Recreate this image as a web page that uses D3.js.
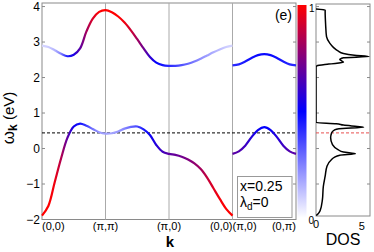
<!DOCTYPE html>
<html>
<head>
<meta charset="utf-8">
<script src="https://cdn.jsdelivr.net/npm/d3@7"></script>
<style>
  body { margin: 0; background: #fff; }
  svg { display: block; font-family: "Liberation Sans", Arial, sans-serif; }
</style>
</head>
<body>
<svg id="chart" width="374" height="252"></svg>
<script>
// k path, first panel: (0,0) -> (pi,pi) -> (pi,0) -> (0,0)
const kA = [0, 0.1, 0.2, 0.3, 0.4, 0.5, 0.6, 0.7, 0.8, 0.9, 1.0, 1.1, 1.2, 1.3, 1.4, 1.5,
  1.6, 1.7, 1.8, 1.9, 2.0, 2.1, 2.2, 2.3, 2.4, 2.5, 2.6, 2.7, 2.8, 2.9, 3.0];
const lowerA = [-1.89, -1.62, -0.95, -0.28, 0.30, 0.62, 0.70, 0.64, 0.55, 0.46, 0.42, 0.43, 0.48, 0.56, 0.61, 0.62,
  0.54, 0.38, 0.10, -0.09, -0.15, -0.18, -0.23, -0.31, -0.42, -0.58, -0.82, -1.12, -1.42, -1.70, -1.89];
const lowerWA = [1.0, 1.0, 0.97, 0.85, 0.68, 0.53, 0.47, 0.38, 0.27, 0.2, 0.18, 0.18, 0.2, 0.24, 0.3, 0.36,
  0.45, 0.52, 0.57, 0.63, 0.68, 0.7, 0.72, 0.75, 0.78, 0.82, 0.88, 0.94, 0.98, 1.0, 1.0];
const upperA = [2.90, 2.86, 2.77, 2.67, 2.60, 2.64, 2.82, 3.30, 3.66, 3.85, 3.90, 3.84, 3.72, 3.55, 3.33, 3.08,
  2.82, 2.58, 2.42, 2.35, 2.33, 2.33, 2.35, 2.39, 2.45, 2.53, 2.62, 2.71, 2.79, 2.86, 2.90];
const upperWA = [0.08, 0.1, 0.15, 0.25, 0.45, 0.55, 0.68, 0.82, 0.93, 1.0, 1.0, 1.0, 1.0, 0.97, 0.9, 0.82,
  0.72, 0.6, 0.5, 0.46, 0.42, 0.38, 0.34, 0.3, 0.26, 0.22, 0.19, 0.16, 0.13, 0.1, 0.08];

// k path, second panel: (pi,0) -> (0,pi)
const kB = [3.0, 3.1, 3.2, 3.3, 3.4, 3.5, 3.6, 3.7, 3.8, 3.9, 4.0];
const lowerB = [-0.15, -0.08, 0.08, 0.32, 0.52, 0.60, 0.52, 0.32, 0.08, -0.08, -0.15];
const lowerWB = [0.68, 0.66, 0.62, 0.57, 0.52, 0.5, 0.52, 0.57, 0.62, 0.66, 0.68];
const upperB = [2.34, 2.37, 2.45, 2.55, 2.63, 2.66, 2.63, 2.55, 2.45, 2.37, 2.34];
const upperWB = [0.42, 0.43, 0.45, 0.47, 0.48, 0.48, 0.48, 0.47, 0.45, 0.43, 0.42];

const kTickPos = [0, 1, 2, 3, 3, 4];
const kTickLabels = ['(0,0)', '(π,π)', '(π,0)', '(0,0)', '(π,0)', '(0,π)'];
const kTickAnchor = ['start', 'middle', 'middle', 'end', 'start', 'end'];
const yTicks = [-2, -1, 0, 1, 2, 3, 4];
const fermi = 0.44;

// density of states, energy from top to bottom
const dosE = [3.93, 3.90, 3.85, 3.50, 3.15, 2.97, 2.85, 2.75, 2.68, 2.63, 2.59, 2.56, 2.51, 2.47, 2.43, 2.38, 2.33, 2.30,
  0.73, 0.70, 0.66, 0.62, 0.60, 0.56, 0.52, 0.44, 0.30, 0.11, -0.03, -0.10, -0.15, -0.19, -0.25, -0.31,
  -0.50, -0.78, -1.07, -1.44, -1.75, -1.86, -1.88];
const dosVal = [0, 1.0, 1.0, 1.05, 1.15, 1.5, 1.9, 2.4, 3.0, 4.2, 5.8, 3.0, 2.6, 2.8, 3.0, 1.4, 0.1, 0,
  0, 2.2, 3.0, 4.5, 5.2, 2.5, 2.0, 1.7, 1.6, 1.8, 2.4, 3.0, 4.3, 2.6, 2.0, 1.7,
  1.2, 1.0, 0.8, 0.7, 0.45, 0.15, 0];
const dosTicks = [0, 5];

const svg = d3.select('#chart');
const defs = svg.append('defs');

const x = d3.scaleLinear().domain([0, 4]).range([42, 296]);
const y = d3.scaleLinear().domain([-2, 4.1]).range([219.5, 3]);
const xd = d3.scaleLinear().domain([0, 5.9]).range([316, 370]);
const cmap = d3.scaleLinear().domain([0, 0.5, 1]).range(['#ffffff', '#0000ff', '#ff0000']);

const frameColor = '#8a8a8a';

// main panel frame and separators
svg.append('rect')
  .attr('x', x(0)).attr('y', y(4.1))
  .attr('width', x(4) - x(0)).attr('height', y(-2) - y(4.1))
  .attr('fill', 'none').attr('stroke', frameColor);

svg.append('g').selectAll('line')
  .data([1, 2, 3])
  .enter().append('line')
  .attr('x1', d => x(d)).attr('x2', d => x(d))
  .attr('y1', y(4.1)).attr('y2', y(-2))
  .attr('stroke', '#aaa');

// y ticks on both sides
const tk = svg.append('g').attr('stroke', frameColor);
yTicks.forEach(v => {
  tk.append('line').attr('x1', x(0)).attr('x2', x(0) + 3).attr('y1', y(v)).attr('y2', y(v));
  tk.append('line').attr('x1', x(4)).attr('x2', x(4) - 3).attr('y1', y(v)).attr('y2', y(v));
});

svg.append('g').selectAll('text')
  .data(yTicks)
  .enter().append('text')
  .attr('x', 40).attr('y', d => y(d))
  .attr('dy', '0.36em')
  .attr('text-anchor', 'end')
  .attr('font-size', 12)
  .text(d => d < 0 ? '\u2212' + Math.abs(d) : d);

svg.append('g').selectAll('text')
  .data(kTickLabels)
  .enter().append('text')
  .attr('x', (d, i) => x(kTickPos[i]))
  .attr('y', 230)
  .attr('text-anchor', (d, i) => kTickAnchor[i])
  .attr('font-size', 11)
  .text(d => d);

// fermi level
svg.append('line')
  .attr('x1', x(0)).attr('x2', x(4))
  .attr('y1', y(fermi)).attr('y2', y(fermi))
  .attr('stroke', '#000').attr('stroke-dasharray', '3,2');

// bands, coloured along k with a horizontal gradient
let gradId = 0;
function drawBand(ks, es, ws) {
  const id = 'band' + (gradId++);
  const x1 = x(ks[0]), x2 = x(ks[ks.length - 1]);
  const grad = defs.append('linearGradient')
    .attr('id', id)
    .attr('gradientUnits', 'userSpaceOnUse')
    .attr('x1', x1).attr('x2', x2).attr('y1', 0).attr('y2', 0);
  ks.forEach((k, i) => {
    grad.append('stop')
      .attr('offset', (x(k) - x1) / (x2 - x1))
      .attr('stop-color', cmap(ws[i]));
  });
  const line = d3.line()
    .x(d => x(d[0]))
    .y(d => y(d[1]))
    .curve(d3.curveCatmullRom);
  svg.append('path')
    .attr('d', line(ks.map((k, i) => [k, es[i]])))
    .attr('fill', 'none')
    .attr('stroke', `url(#${id})`)
    .attr('stroke-width', 2.2);
}
drawBand(kA, upperA, upperWA);
drawBand(kA, lowerA, lowerWA);
drawBand(kB, upperB, upperWB);
drawBand(kB, lowerB, lowerWB);

// labels
svg.append('text')
  .attr('x', 292).attr('y', 20)
  .attr('text-anchor', 'end')
  .attr('font-size', 14)
  .text('(e)');

const leg = svg.append('g');
leg.append('rect')
  .attr('x', 237.5).attr('y', 176.5).attr('width', 54.5).attr('height', 41)
  .attr('fill', '#fff').attr('stroke', '#999');
leg.append('text')
  .attr('x', 240).attr('y', 191)
  .attr('font-size', 14)
  .text('x=0.25');
const lam = leg.append('text')
  .attr('x', 240).attr('y', 207)
  .attr('font-size', 14);
lam.append('tspan').text('λ');
lam.append('tspan').attr('font-size', 10).attr('dy', 3).text('d');
lam.append('tspan').attr('dy', -3).text('=0');

svg.append('text')
  .attr('x', 170).attr('y', 247)
  .attr('text-anchor', 'middle')
  .attr('font-size', 15)
  .attr('font-weight', 'bold')
  .text('k');

const yl = svg.append('text')
  .attr('transform', 'translate(14,118) rotate(-90)')
  .attr('text-anchor', 'middle')
  .attr('font-size', 15);
yl.append('tspan').attr('font-size', 17).text('ω');
yl.append('tspan').attr('font-size', 12).attr('font-weight', 'bold').attr('dy', 3).text('k');
yl.append('tspan').attr('dy', -3).text(' (eV)');

// colour bar
const cb = defs.append('linearGradient')
  .attr('id', 'cbar')
  .attr('x1', 0).attr('y1', 1).attr('x2', 0).attr('y2', 0);
[0, 0.25, 0.5, 0.75, 1].forEach(v => {
  cb.append('stop').attr('offset', v).attr('stop-color', cmap(v));
});
svg.append('rect')
  .attr('x', 297.5).attr('y', 5).attr('width', 9).attr('height', 213)
  .attr('fill', 'url(#cbar)');
svg.append('text').attr('x', 309).attr('y', 12).attr('font-size', 10).text('1');
svg.append('text').attr('x', 308.5).attr('y', 224).attr('font-size', 10).text('0');

// DOS panel
const dTop = 4, dBot = 216;
defs.append('clipPath').attr('id', 'dosclip')
  .append('rect').attr('x', 316).attr('y', dTop).attr('width', 54).attr('height', dBot - dTop);

svg.append('rect')
  .attr('x', 316).attr('y', dTop).attr('width', 54).attr('height', dBot - dTop)
  .attr('fill', 'none').attr('stroke', frameColor);

const dtk = svg.append('g').attr('stroke', frameColor);
yTicks.filter(v => y(v) > dTop && y(v) < dBot).forEach(v => {
  dtk.append('line').attr('x1', 316).attr('x2', 319).attr('y1', y(v)).attr('y2', y(v));
  dtk.append('line').attr('x1', 370).attr('x2', 367).attr('y1', y(v)).attr('y2', y(v));
});

svg.append('line')
  .attr('x1', 316).attr('x2', 370)
  .attr('y1', y(fermi)).attr('y2', y(fermi))
  .attr('stroke', '#e8504f').attr('stroke-dasharray', '3,2');

const dosLine = d3.line()
  .x(d => xd(d[1]))
  .y(d => y(d[0]))
  .curve(d3.curveMonotoneY);
svg.append('path')
  .attr('clip-path', 'url(#dosclip)')
  .attr('d', dosLine(dosE.map((e, i) => [e, dosVal[i]])))
  .attr('fill', 'none')
  .attr('stroke', '#000')
  .attr('stroke-width', 1.5);

svg.append('g').selectAll('text')
  .data(dosTicks)
  .enter().append('text')
  .attr('x', d => xd(d)).attr('y', (d, i) => i === 0 ? 228 : 230)
  .attr('text-anchor', 'middle')
  .attr('font-size', 11)
  .text(d => d);

svg.append('text')
  .attr('x', 343).attr('y', 245)
  .attr('text-anchor', 'middle')
  .attr('font-size', 16)
  .text('DOS');
</script>
</body>
</html>
